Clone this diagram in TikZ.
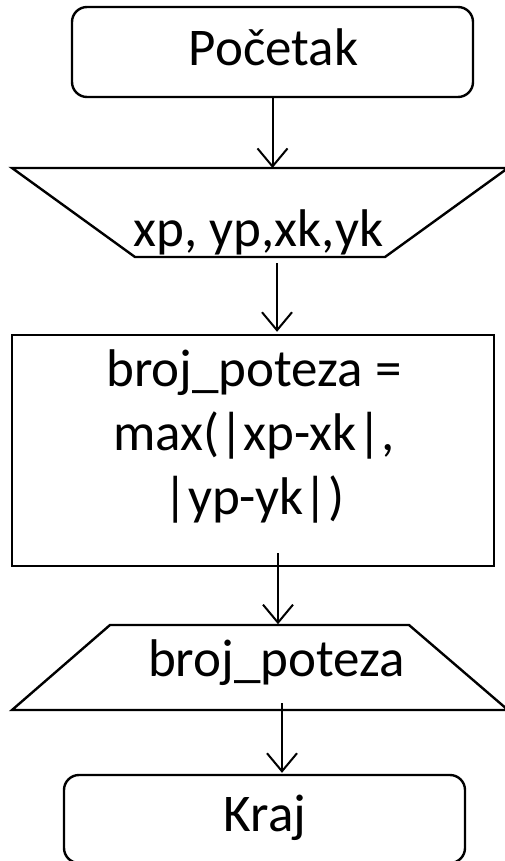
\documentclass[tikz,border=0pt]{standalone}
\usepackage{fontspec}
\setmainfont{Carlito}
\usetikzlibrary{arrows.meta,calc}

\begin{document}
\begin{tikzpicture}[x=1pt,y=-1pt,>={Straight Barb[length=18pt,width=30pt]},
 term/.style={draw,line width=2.4pt,rounded corners=15pt,minimum width=401pt,
 minimum height=90pt,inner sep=0pt},
 proc/.style={draw,line width=2.4pt,minimum width=482pt,minimum height=231pt,inner sep=0pt},
 io/.style={draw,line width=2.4pt,line join=miter},
 txt/.style={inner sep=0pt,align=center,font=\fontsize{53}{64}\selectfont},
 flow/.style={->,line width=2pt}]
\useasboundingbox (0,0) rectangle (504,861);
% blocks
\node[term] (start) at (272.5,52) {};
\draw[io] (12,168) coordinate (in-tl) -- (508,168) -- (385,257)
 -- (135,257) coordinate (in-bl) -- cycle;
\node[proc] (calc) at (253,450.5) {};
\draw[io] (110,625) coordinate (out-tl) -- (409,625) -- (508,710)
 -- (12,710) coordinate (out-bl) -- cycle;
\node[term,minimum height=88pt] (stop) at (264.5,819) {};
% texts
\node[txt] (startT) at ($(start)+(1,-5)$) {Početak};
\node[txt] (inputT) at (258.5,232) {xp, yp,xk,yk};
\node[txt] (calcT) at ($(calc)+(1,-14)$) {broj\_poteza =\\max(|xp-xk|,\\|yp-yk|)};
\node[txt] (outputT) at (276.5,662.5) {broj\_poteza};
\node[txt] (stopT) at ($(stop)+(0.5,-1.5)$) {Kraj};
% arrows
\draw[flow] (start.south) -- (start.south |- in-tl);
\draw[flow] ($(in-bl)+(142,6)$) -- ($(calc.north)+(24,-2)$);
\draw[flow] ($(calc.south)+(25,-14)$) -- ($(calc.south -| out-tl)+(168,57)$);
\draw[flow] ($(out-bl)+(270,-7)$) -- ($(stop.north)+(17.5,-1)$);
\end{tikzpicture}
\end{document}
